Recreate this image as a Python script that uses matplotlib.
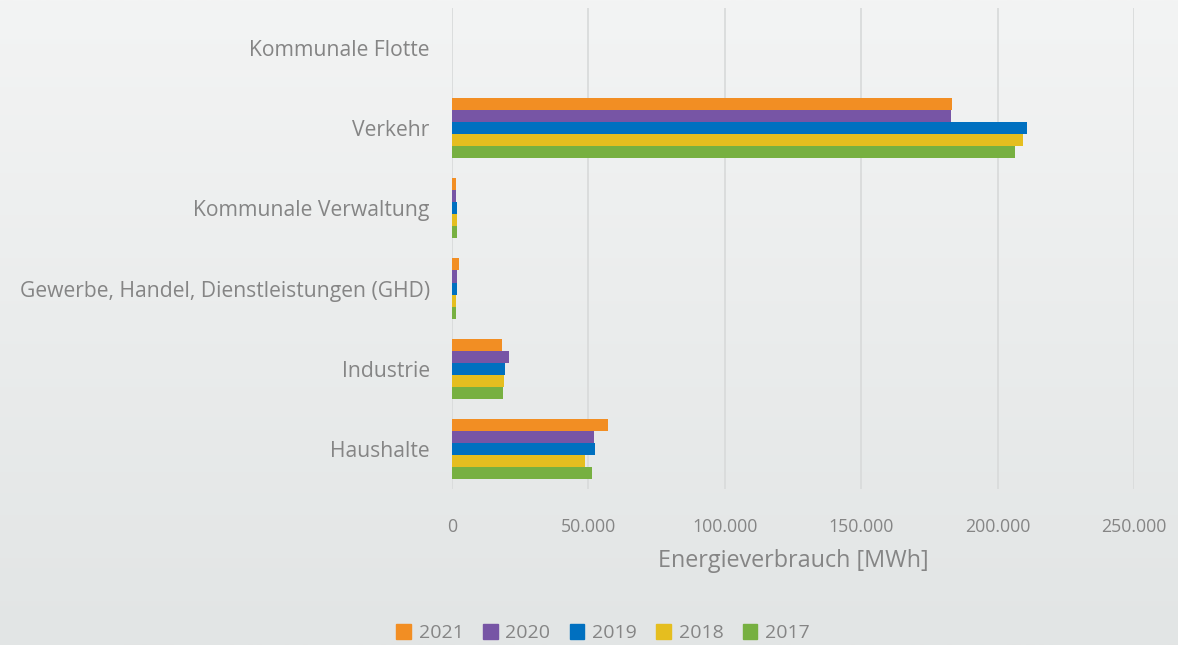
import matplotlib
matplotlib.use("Agg")
import matplotlib.pyplot as plt
import numpy as np
from matplotlib.patches import Patch
from matplotlib.colors import LinearSegmentedColormap

categories = ["Haushalte", "Industrie", "Gewerbe, Handel, Dienstleistungen (GHD)",
              "Kommunale Verwaltung", "Verkehr", "Kommunale Flotte"]
years = ["2021", "2020", "2019", "2018", "2017"]
values = {
    "2021": [57300, 18500, 2500, 1500, 183200, 0],
    "2020": [52000, 21000, 2000, 1500, 183000, 0],
    "2019": [52300, 19300, 1700, 1900, 210900, 0],
    "2018": [48800, 19200, 1500, 1700, 209400, 0],
    "2017": [51300, 18700, 1500, 1700, 206300, 0],
}
colors = {"2021": "#F28E23", "2020": "#7755A5", "2019": "#0070C0",
          "2018": "#E5BE1F", "2017": "#77B041"}
xticks = [0, 50000, 100000, 150000, 200000, 250000]
xticklabels = ["0", "50.000", "100.000", "150.000", "200.000", "250.000"]

plt.rcParams['font.family'] = ['Open Sans', 'DejaVu Sans']
txt = "#858585"

fig = plt.figure(figsize=(11.78, 6.45), dpi=100)
# background gradient
bg = fig.add_axes([0, 0, 1, 1], zorder=-10)
grad = np.linspace(0, 1, 256).reshape(-1, 1)
cmap = LinearSegmentedColormap.from_list("bg", ["#F3F4F4", "#E2E5E5"])
bg.imshow(grad, aspect="auto", cmap=cmap, extent=[0, 1, 0, 1])
bg.axis("off")

ax = fig.add_axes([0.3837, 0.242, 0.5790, 0.7456])
ax.set_facecolor("none")
n = len(years)
h = 0.15
y = np.arange(len(categories))
for i, yr in enumerate(years):
    offs = (n - 1) / 2 * h - i * h
    ax.barh(y + offs, values[yr], height=h, color=colors[yr], zorder=3, label=yr)

ax.set_ylim(-0.5, len(categories) - 0.5)
ax.set_xlim(0, 250000)
ax.set_yticks(y)
ax.set_yticklabels(categories, fontsize=15.2, color=txt)
ax.set_xticks(xticks)
ax.set_xticklabels(xticklabels, fontsize=12.8, color=txt)
ax.tick_params(length=0)
ax.tick_params(axis="y", pad=16)
ax.tick_params(axis="x", pad=21)
ax.grid(axis="x", color="#D9DBDB", linewidth=1.3, zorder=0)
for s in ax.spines.values():
    s.set_visible(False)
ax.set_xlabel("Energieverbrauch [MWh]", fontsize=16.8, color=txt, labelpad=9)

handles = [Patch(color=colors[yr], label=yr) for yr in years]
leg = fig.legend(handles=handles, loc="center", bbox_to_anchor=(0.512, 0.018),
                 ncol=5, frameon=False, fontsize=14, handlelength=0.75,
                 handleheight=0.75, columnspacing=1.0, handletextpad=0.4)
for t in leg.get_texts():
    t.set_color(txt)

fig.savefig("out.png", dpi=100)
